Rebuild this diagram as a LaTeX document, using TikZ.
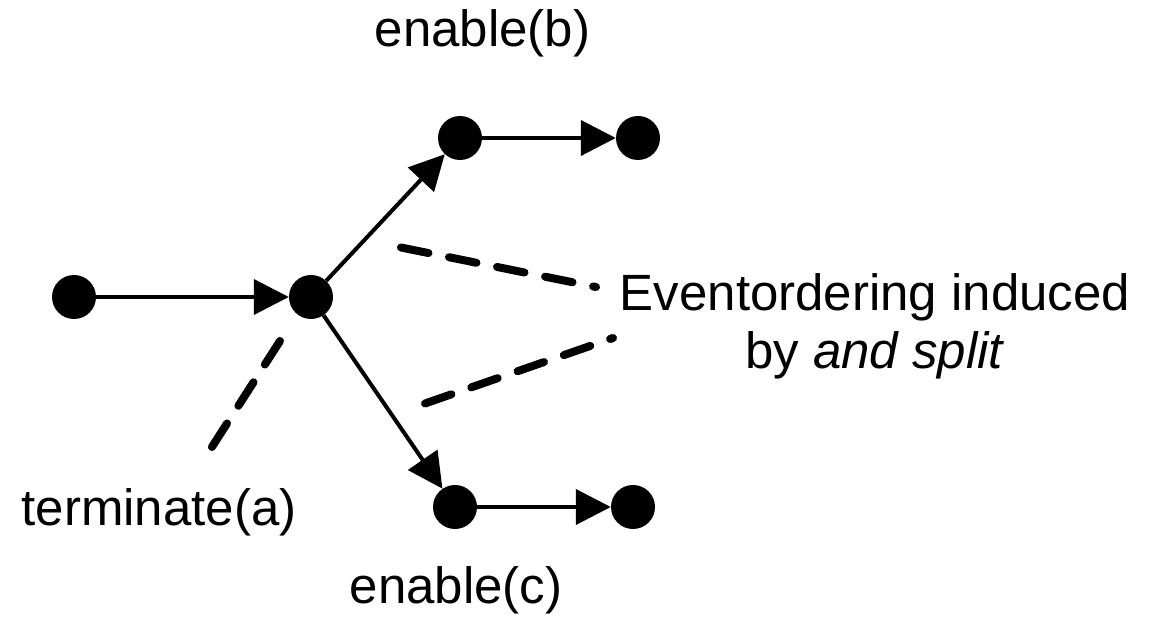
\documentclass[tikz,border=0pt]{standalone}
\usepackage{fontspec}
\setmainfont{Liberation Sans}
\usetikzlibrary{arrows.meta}
\tikzset{
  dotnode/.style={circle, fill=black, minimum size=44pt, inner sep=0pt},
  flow/.style={line width=4pt, -{Triangle[length=35pt,width=35pt]}},
  hint/.style={line width=8pt, line cap=round, dash pattern=on 28pt off 21pt},
  lbl/.style={inner sep=0pt, font=\fontsize{51}{58}\selectfont}
}
\begin{document}
\begin{tikzpicture}[x=1pt,y=-1pt]
\useasboundingbox (0,0) rectangle (1157,617);
\node[dotnode] (s) at (74,297) {};
\node[dotnode] (m) at (311,297) {};
\node[dotnode] (b1) at (460,138) {};
\node[dotnode] (b2) at (638,138) {};
\node[dotnode] (c1) at (455,507) {};
\node[dotnode] (c2) at (633,507) {};
\draw[flow] (s) -- (m);
\draw[flow] (m) -- (b1);
\draw[flow] (b1) -- (b2);
\draw[flow] (m) -- (c1);
\draw[flow] (c1) -- (c2);
\node[lbl, anchor=base] (lb) at (482.5,47) {enable(b)};
\node[lbl, anchor=base] (la) at (159,525) {terminate(a)};
\node[lbl, anchor=base] (lc) at (456,603) {enable(c)};
\node[lbl, anchor=north, align=center] (lo) at (875,273) {Eventordering induced\\by \textit{and split}};
\coordinate (u0) at (401,247.5);
\coordinate (u1) at (596,287);
\coordinate (d0) at (425,403.5);
\coordinate (d1) at (613,338);
\coordinate (t0) at (280,341);
\coordinate (t1) at (210,450);
\draw[hint] (u0) -- (u1);
\draw[hint] (d0) -- (d1);
\draw[hint] (t0) -- (t1);
\end{tikzpicture}
\end{document}
